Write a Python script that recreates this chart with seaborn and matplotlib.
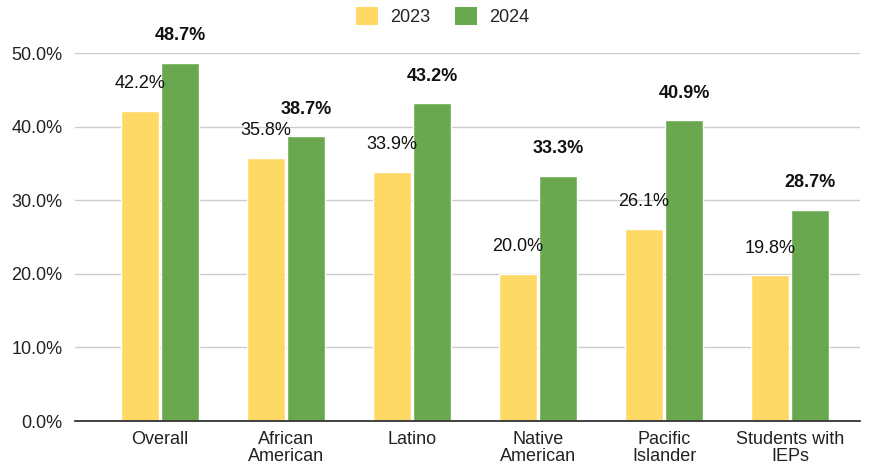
import pandas as pd
import numpy as np
import matplotlib.pyplot as plt
import seaborn as sns
from matplotlib.patches import Patch

categories = ['Overall', 'African\nAmerican', 'Latino', 'Native\nAmerican', 'Pacific\nIslander', 'Students with\nIEPs']
vals_2023 = [42.2, 35.8, 33.9, 20.0, 26.1, 19.8]
vals_2024 = [48.7, 38.7, 43.2, 33.3, 40.9, 28.7]
years = ['2023', '2024']
colors = ['#FFD966', '#6AA84F']

df = pd.DataFrame({
    'group': categories * 2,
    'year': [years[0]] * len(categories) + [years[1]] * len(categories),
    'value': vals_2023 + vals_2024,
})

sns.set_theme(style='white')
plt.rcParams['font.family'] = ['Liberation Sans', 'DejaVu Sans']

fig = plt.figure(figsize=(8.73, 4.65), dpi=100)
ax = fig.add_axes([0.086, 0.0946, 0.899, 0.791])

sns.barplot(data=df, x='group', y='value', hue='year', palette=colors,
            width=0.64, gap=0.05, saturation=1, legend=False, ax=ax, zorder=3)

# value labels, 2023 normal, 2024 bold
for cont, weight in zip(ax.containers, ['normal', 'bold']):
    for bar in cont:
        h = bar.get_height()
        ax.annotate(f'{h:.1f}%', (bar.get_x() + bar.get_width() / 2, h),
                    xytext=(0, 19.5), textcoords='offset points',
                    ha='center', va='center', fontsize=13, fontweight=weight,
                    color='#111111', annotation_clip=False, zorder=5)

ax.set_ylim(0, 50)
ax.set_xlim(-0.675, 5.555)
ax.set_yticks(np.arange(0, 51, 10))
ax.set_yticklabels([f'{t:.1f}%' for t in np.arange(0, 51, 10)], fontsize=13, color='#222222')
ax.tick_params(axis='x', labelsize=13, colors='#222222', length=0, pad=7)
ax.tick_params(axis='y', length=0, pad=9)
for lbl in ax.get_xticklabels():
    lbl.set_linespacing(1.05)
ax.set_xlabel('')
ax.set_ylabel('')
ax.yaxis.grid(True, color='#cccccc', linewidth=1, zorder=0)
for s in ['top', 'right', 'left']:
    ax.spines[s].set_visible(False)
ax.spines['bottom'].set_color('#333333')
ax.spines['bottom'].set_linewidth(1.3)
ax.spines['bottom'].set_zorder(4)

handles = [Patch(facecolor=c, edgecolor='none') for c in colors]
fig.legend(handles, years, loc='upper center', bbox_to_anchor=(0.507, 1.02), ncol=2,
           frameon=False, fontsize=13, handlelength=1.2, handleheight=1.2,
           columnspacing=1.4, handletextpad=0.65)

plt.savefig('out.png', dpi=100)
